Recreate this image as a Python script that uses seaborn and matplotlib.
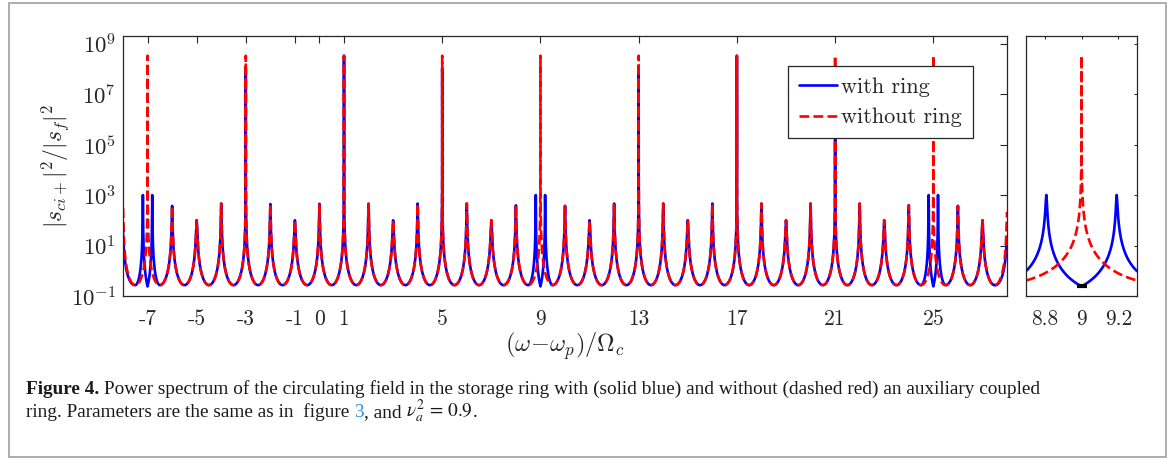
import numpy as np
import matplotlib
matplotlib.use("Agg")
import matplotlib.pyplot as plt
import seaborn as sns
from matplotlib.patches import Rectangle
from matplotlib.ticker import NullLocator

sns.set_style("white")
plt.rcParams["font.family"] = ["cmr10", "DejaVu Sans"]
plt.rcParams["mathtext.fontset"] = "cm"
plt.rcParams["axes.unicode_minus"] = False
plt.rcParams["axes.formatter.use_mathtext"] = True

# resonance orders shown on the axis (-8 ... 28)
orders = np.arange(-8, 29)

# peak heights, one per order
red_peak = [300, 3.3e8, 372, 101, 460, 3.3e8, 440, 100, 450, 3.3e8,
            450, 100, 460, 3.3e8, 460, 100, 390, 3.3e8, 372, 100,
            460, 3.3e8, 460, 100, 460, 3.3e8, 460, 100, 460, 3.3e8,
            460, 100, 390, 3.3e8, 372, 100, 215]
blue_peak = [390, 1000, 372, 101, 460, 1e8, 440, 100, 450, 3.3e8,
             450, 100, 460, 1e8, 460, 100, 390, 1000, 372, 100,
             460, 1e8, 460, 100, 460, 3.3e8, 460, 100, 460, 1e8,
             460, 100, 390, 1000, 372, 100, 460]
blue_shift = {-8: -0.027, 28: 0.034}   # blue peaks just outside the frame

# orders where the auxiliary ring splits the blue resonance
split_orders = [-7, 9, 25]
split_half_gap = 0.19
split_floor = 0.24
trough = 0.27          # minimum between resonances

main_ticks = [-7, -5, -3, -1, 0, 1, 5, 9, 13, 17, 21, 25]
main_ticklabels = ["-7", "-5", "-3", "-1", "0", "1", "5", "9", "13", "17", "21", "25"]
zoom_ticks = [8.8, 9, 9.2]
zoom_ticklabels = ["8.8", "9", "9.2"]
y_ticks = [1e-1, 1e1, 1e3, 1e5, 1e7, 1e9]
y_ticklabels = [r"$10^{-1}$", r"$10^{1}$", r"$10^{3}$", r"$10^{5}$", r"$10^{7}$", r"$10^{9}$"]


def spectrum(x, peaks, shift=None, splits=()):
    n = np.rint(x).astype(int)
    h = np.asarray(peaks, dtype=float)[n - orders[0]]
    centre = n.astype(float)
    if shift:
        for k, v in shift.items():
            centre[n == k] += v
    d = x - centre
    g = np.sin(np.pi * d) ** 2
    for s in splits:
        near = n == s
        ad = np.abs(d[near])
        inner = np.sin(np.pi * (split_half_gap - ad)) ** 2 / np.sin(np.pi * split_half_gap) ** 2
        inner *= trough / split_floor
        outer = np.sin(np.pi * (ad - split_half_gap) * 0.5 / (0.5 - split_half_gap)) ** 2
        g[near] = np.where(ad < split_half_gap, inner, outer)
    return 1.0 / (1.0 / h + g / trough)


W, H = 1171, 459
fig = plt.figure(figsize=(W / 100, H / 100), dpi=100)
ax = fig.add_axes([123 / W, 1 - 296 / H, (1007 - 123) / W, (296 - 36) / H])
ax2 = fig.add_axes([1026 / W, 1 - 296 / H, (1137 - 1026) / W, (296 - 36) / H])

x = np.linspace(-8, 28, 72001)
xz = np.linspace(8.7, 9.3, 6001)
blue = spectrum(x, blue_peak, blue_shift, split_orders)
red = spectrum(x, red_peak)
blue_z = spectrum(xz, blue_peak, blue_shift, split_orders)
red_z = spectrum(xz, red_peak)

sns.lineplot(x=x, y=blue, ax=ax, color="blue", lw=1.9, estimator=None, sort=False, label="with ring")
sns.lineplot(x=x, y=red, ax=ax, color="red", lw=1.9, ls="--", estimator=None, sort=False, label="without ring")
sns.lineplot(x=xz, y=blue_z, ax=ax2, color="blue", lw=1.9, estimator=None, sort=False, legend=False)
sns.lineplot(x=xz, y=red_z, ax=ax2, color="red", lw=1.9, ls="--", estimator=None, sort=False, legend=False)
ax2.plot([9], [blue_z[np.argmin(np.abs(xz - 9))]], marker="_", ms=7, mew=3, color="k")

for a in (ax, ax2):
    a.set_yscale("log")
    a.set_ylim(0.1, 10 ** 9.3)
    a.set_yticks(y_ticks)
    a.yaxis.set_minor_locator(NullLocator())
    a.xaxis.set_minor_locator(NullLocator())
    for sp in a.spines.values():
        sp.set_color("#262626")
        sp.set_linewidth(0.9)
    a.tick_params(direction="in", top=True, right=True, colors="#262626",
                  labelcolor="#262626", width=0.8)
    a.tick_params(axis="x", labelsize=15.5, pad=10)
    a.tick_params(axis="y", labelsize=16.5, pad=5)

ax.set_xlim(-8, 28)
ax.set_xticks(main_ticks)
ax.set_xticklabels(main_ticklabels)
ax.set_yticklabels(y_ticklabels)
ax.tick_params(length=5)
ax.set_xlabel(r"$(\omega\!-\!\omega_p)/\Omega_c$", fontsize=17.5, color="#262626", labelpad=1)
ax.set_ylabel(r"$|s_{ci+}|^2/|s_f|^2$", fontsize=17, color="#262626", labelpad=0)

ax2.set_xlim(8.7, 9.3)
ax2.set_xticks(zoom_ticks)
ax2.set_xticklabels(zoom_ticklabels)
ax2.set_yticklabels([])
ax2.set_ylabel("")
ax2.tick_params(length=2.5)

leg = ax.legend(loc="upper left", bbox_to_anchor=((788 - 123) / 884, (296 - 66) / 260),
                fontsize=16, frameon=True, fancybox=False, framealpha=1,
                borderaxespad=0, handlelength=1.7, handletextpad=0.2,
                labelspacing=0.5, borderpad=0.5)
leg.get_frame().set_edgecolor("#262626")
leg.get_frame().set_linewidth(0.9)

# grey frame of the figure panel
fig.add_artist(Rectangle((9 / W, 1 - 457 / H), (1166 - 9) / W, (457 - 3) / H,
                         transform=fig.transFigure, fill=False,
                         edgecolor="#a0a0a0", lw=1.2))

# caption
renderer = fig.canvas.get_renderer()
cap = dict(family="Liberation Serif", fontsize=13.9, color="#1a1a1a")


def width_of(t):
    return t.get_window_extent(renderer).width


def run(x0, y0, parts):
    xx = x0
    probe = fig.text(0, 0, "a a", **cap)
    probe2 = fig.text(0, 0, "aa", **cap)
    space = width_of(probe) - width_of(probe2)
    probe.remove()
    probe2.remove()
    for s, kw, gap in parts:
        t = fig.text(xx / W, 1 - y0 / H, s, va="baseline", ha="left", **{**cap, **kw})
        xx += width_of(t) + (space if gap else 0)


run(26, 394, [("Figure 4.", dict(fontweight="bold"), True),
              ("Power spectrum of the circulating field in the storage ring with (solid blue) "
               "and without (dashed red) an auxiliary coupled", {}, False)])
run(26, 417, [("ring. Parameters are the same as in  figure", {}, True),
              ("3", dict(color="#2a8fd4"), False),
              (", and", {}, True),
              (r"$\nu_a^2\,=\,0.9$", dict(math_fontfamily="stix"), False),
              (".", {}, False)])

fig.savefig("out.png", dpi=100)
